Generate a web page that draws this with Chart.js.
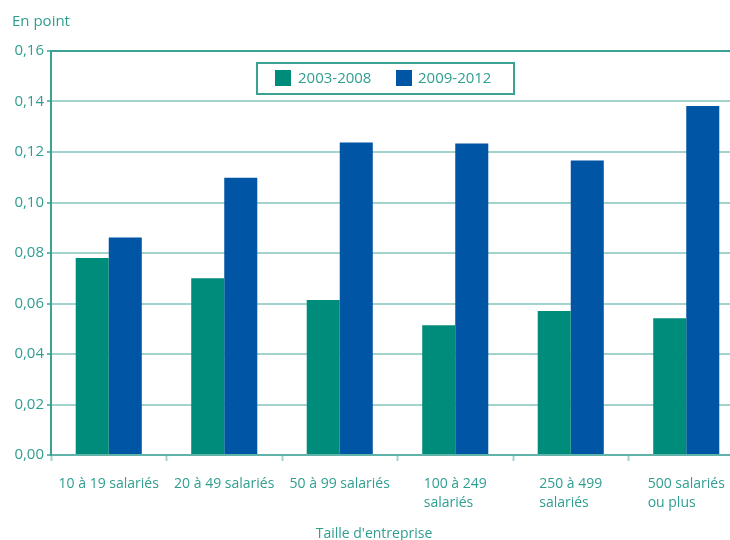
<!DOCTYPE html>
<html>
<head>
<meta charset="utf-8">
<script src="https://cdn.jsdelivr.net/npm/chart.js@4"></script>
<style>
html,body{margin:0;padding:0;overflow:hidden;background:#fff;width:730px;height:540px;}
canvas{display:block;}
</style>
</head>
<body>
<canvas id="c" width="744" height="540"></canvas>
<script>
const categories = [
  ['10 à 19 salariés'],
  ['20 à 49 salariés'],
  ['50 à 99 salariés'],
  ['100 à 249', 'salariés'],
  ['250 à 499', 'salariés'],
  ['500 salariés', 'ou plus']
];
const seriesNames = ['2003-2008', '2009-2012'];
const values2003_2008 = [0.078, 0.070, 0.0614, 0.0514, 0.0570, 0.0542];
const values2009_2012 = [0.0861, 0.1098, 0.1238, 0.1234, 0.1166, 0.1382];
const yAxisUnit = 'En point';
const xAxisTitle = "Taille d'entreprise";

const TEXT = '#2f9e90';
const TEAL = '#008c7a';
const BLUE = '#0055a4';
const GRID = '#a3d3cd';
const AXIS = '#3aa193';
const FONT = '"Open Sans", "Noto Sans", sans-serif';

const overlay = {
  id: 'overlay',
  afterDraw(chart) {
    const ctx = chart.ctx;
    ctx.save();
    ctx.fillStyle = TEXT;
    ctx.font = '15px ' + FONT;
    ctx.textAlign = 'left';
    ctx.textBaseline = 'middle';
    ctx.fillText(yAxisUnit, 12, 22);
    // category labels: block centred on the category, lines left-aligned
    const xs = chart.scales.x;
    ctx.font = '14px ' + FONT;
    chart.data.labels.forEach((lines, i) => {
      const cx = xs.getPixelForValue(i);
      const w = Math.max(...lines.map(l => ctx.measureText(l).width));
      const left = cx - w / 2;
      lines.forEach((l, j) => ctx.fillText(l, left, 484 + j * 19));
    });
    // axis title
    ctx.textAlign = 'center';
    ctx.fillText(xAxisTitle, 374, 534);
    // legend box
    ctx.fillStyle = '#fff';
    ctx.fillRect(257, 63, 257, 31);
    ctx.strokeStyle = AXIS;
    ctx.lineWidth = 2;
    ctx.strokeRect(257, 63, 257, 31);
    const pos = [[275, 298], [396, 418]];
    ctx.font = '15px ' + FONT;
    ctx.textAlign = 'left';
    chart.data.datasets.forEach((ds, i) => {
      ctx.fillStyle = ds.backgroundColor;
      ctx.fillRect(pos[i][0], 70, 16, 16);
      ctx.fillStyle = TEXT;
      ctx.fillText(ds.label, pos[i][1], 79);
    });
    ctx.restore();
  }
};

new Chart(document.getElementById('c'), {
  type: 'bar',
  data: {
    labels: categories,
    datasets: [
      { label: seriesNames[0], data: values2003_2008, backgroundColor: TEAL },
      { label: seriesNames[1], data: values2009_2012, backgroundColor: BLUE }
    ]
  },
  options: {
    responsive: false,
    devicePixelRatio: 1,
    animation: false,
    layout: { padding: { top: 51, left: 0, right: 0, bottom: 0 } },
    plugins: { legend: { display: false }, tooltip: { enabled: false } },
    datasets: { bar: { categoryPercentage: 0.572, barPercentage: 1.0 } },
    scales: {
      x: {
        afterFit(s) { s.height = 85; },
        grid: {
          display: true, drawOnChartArea: false, drawTicks: true,
          tickLength: 6, tickColor: GRID, tickWidth: 2, offset: true
        },
        border: { display: true, color: '#5fb3a8', width: 2 },
        ticks: { display: false, autoSkip: false }
      },
      y: {
        min: 0, max: 0.16,
        afterFit(s) { s.width = 51; },
        grid: {
          color: (c) => (c.tick && c.tick.value >= 0.159) ? AXIS : GRID,
          lineWidth: 2,
          tickLength: 4, tickColor: AXIS, tickWidth: 1.5
        },
        border: { display: true, color: AXIS, width: 2 },
        ticks: {
          stepSize: 0.02, color: TEXT, padding: 3,
          font: { family: FONT, size: 15 },
          callback: (v) => v.toFixed(2).replace('.', ',')
        }
      }
    }
  },
  plugins: [overlay]
});
</script>
</body>
</html>
